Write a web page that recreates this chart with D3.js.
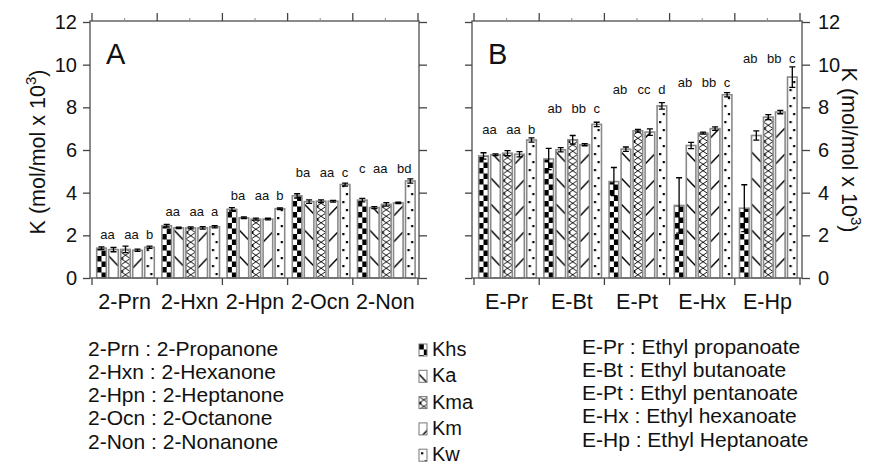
<!DOCTYPE html>
<html><head><meta charset="utf-8">
<script src="https://cdn.jsdelivr.net/npm/d3@7"></script>
<style>body{margin:0;background:#fff} svg{display:block} text{font-family:"Liberation Sans",Arial,Helvetica,sans-serif;fill:#111}</style>
</head><body><svg id="c" width="884" height="464"></svg>
<script>
const series = ["Khs","Ka","Kma","Km","Kw"];
const catsA = ["2-Prn","2-Hxn","2-Hpn","2-Ocn","2-Non"];
const catsB = ["E-Pr","E-Bt","E-Pt","E-Hx","E-Hp"];
const yTicks = [0,2,4,6,8,10,12];
// values per category, in series order Khs, Ka, Kma, Km, Kw
const valuesA = [
 [1.40,1.33,1.34,1.30,1.44],
 [2.45,2.35,2.35,2.35,2.40],
 [3.22,2.82,2.76,2.76,3.25],
 [3.85,3.58,3.60,3.60,4.38],
 [3.65,3.30,3.45,3.52,4.55]];
const errorsA = [
 [0.06,0.10,0.15,0.05,0.05],
 [0.06,0.03,0.05,0.06,0.05],
 [0.08,0.04,0.05,0.04,0.04],
 [0.10,0.08,0.06,0.04,0.07],
 [0.08,0.05,0.08,0.03,0.10]];
const valuesB = [
 [5.72,5.78,5.85,5.80,6.47],
 [5.58,6.01,6.48,6.25,7.20],
 [4.52,6.04,6.90,6.84,8.07],
 [3.40,6.21,6.79,7.00,8.59],
 [3.27,6.68,7.54,7.78,9.42]];
const errorsB = [
 [0.15,0.04,0.12,0.12,0.10],
 [0.50,0.10,0.20,0.05,0.10],
 [0.66,0.10,0.06,0.15,0.15],
 [1.30,0.15,0.05,0.08,0.10],
 [1.10,0.22,0.12,0.08,0.48]];
// significance letters: [text, first bar index, last bar index]
const lettersA = [
 [["aa",0,1],["aa",2,3],["b",4,4]],
 [["aa",0,1],["aa",2,3],["a",4,4]],
 [["ba",0,1],["aa",2,3],["b",4,4]],
 [["ba",0,1],["aa",2,3],["c",4,4]],
 [["c",0,0],["aa",1,2],["bd",3,4]]];
const lettersB = [
 [["aa",0,1],["aa",2,3],["b",4,4]],
 [["ab",0,1],["bb",2,3],["c",4,4]],
 [["ab",0,1],["cc",2,3],["d",4,4]],
 [["ab",0,1],["bb",2,3],["c",4,4]],
 [["ab",0,1],["bb",2,3],["c",4,4]]];
const letterLevelA = [1.81,2.89,3.64,4.72,4.91];
const letterLevelB = [6.74,7.72,8.62,8.94,10.07];
const legendA = ["2-Prn : 2-Propanone","2-Hxn : 2-Hexanone","2-Hpn : 2-Heptanone","2-Ocn : 2-Octanone","2-Non : 2-Nonanone"];
const legendB = ["E-Pr : Ethyl propanoate","E-Bt : Ethyl butanoate","E-Pt : Ethyl pentanoate","E-Hx : Ethyl hexanoate","E-Hp : Ethyl Heptanoate"];

const svg = d3.select("#c");
const Y0 = 278, Y1 = 22;
const y = d3.scaleLinear().domain([0,12]).range([Y0,Y1]);
const inner = d3.scaleBand().domain(series).range([3.5,63.5]).paddingInner(0.2).paddingOuter(0.1);
const bw = inner.bandwidth();
const frameCol = "#666";

// patterns
const defs = svg.append("defs");
function pat(id, w, h){ return defs.append("pattern").attr("id",id).attr("patternUnits","userSpaceOnUse").attr("width",w).attr("height",h); }
let p = pat("p-Khs", bw, 11);
p.append("rect").attr("width",bw).attr("height",11).attr("fill","#fff");
p.append("rect").attr("x",0).attr("y",0).attr("width",bw/2).attr("height",5.5).attr("fill","#000");
p.append("rect").attr("x",bw/2).attr("y",5.5).attr("width",bw/2).attr("height",5.5).attr("fill","#000");
p = pat("p-Ka", bw, 26);
p.append("rect").attr("width",bw).attr("height",26).attr("fill","#fff");
p.append("path").attr("d",`M0,4L${bw},14`).attr("stroke","#000").attr("stroke-width",1.5);
p = pat("p-Kma", bw, 13);
p.append("rect").attr("width",bw).attr("height",13).attr("fill","#fff");
p.append("path").attr("d",`M0,0L${bw},6.5L0,13M${bw},0L0,6.5L${bw},13`).attr("stroke","#000").attr("stroke-width",0.9).attr("fill","none");
p.append("rect").attr("x",0).attr("y",5.3).attr("width",2.4).attr("height",2.4).attr("fill","#000");
p = pat("p-Km", bw, 26);
p.append("rect").attr("width",bw).attr("height",26).attr("fill","#fff");
p.append("path").attr("d",`M0,16L${bw},6`).attr("stroke","#000").attr("stroke-width",1.5);
p = pat("p-Kw", bw, 16);
p.append("rect").attr("width",bw).attr("height",16).attr("fill","#fff");
p.append("rect").attr("x",2).attr("y",3).attr("width",2.2).attr("height",2.2).attr("fill","#000");
p.append("rect").attr("x",5.6).attr("y",11).attr("width",2.2).attr("height",2.2).attr("fill","#000");

function panel(cats, values, errors, letters, levels, fx0, fx1, bx0, bx1, label, leftLabels, rightLabels){
  const g = svg.append("g");
  const x = d3.scaleBand().domain(cats).range([bx0,bx1]);
  cats.forEach((c,ci)=>{
    series.forEach((s,si)=>{
      const v = values[ci][si], e = errors[ci][si];
      const bx = x(c)+inner(s);
      const bg = g.append("g").attr("transform",`translate(${bx},${Y0})`);
      bg.append("rect").attr("x",0).attr("y",y(v)-Y0).attr("width",bw).attr("height",Y0-y(v))
        .attr("fill",`url(#p-${s})`).attr("stroke","#8a8a8a").attr("stroke-width",1.6);
      const cx = bw/2;
      bg.append("path").attr("d",`M${cx},${y(v+e)-Y0}V${y(v-e)-Y0}M${cx-3},${y(v+e)-Y0}H${cx+3}M${cx-3},${y(v-e)-Y0}H${cx+3}`)
        .attr("stroke","#000").attr("stroke-width",1.3).attr("fill","none");
    });
    letters[ci].forEach(([t,a,b])=>{
      const xa = x(c)+inner(series[a]), xb = x(c)+inner(series[b])+bw;
      g.append("text").attr("x",(xa+xb)/2).attr("y",y(levels[ci])).attr("text-anchor","middle")
        .attr("font-size",13).text(t);
    });
  });
  g.append("rect").attr("x",fx0).attr("y",Y1-1).attr("width",fx1-fx0).attr("height",Y0-Y1+1)
    .attr("fill","none").attr("stroke",frameCol).attr("stroke-width",1.5);
  const la = d3.axisLeft(y).tickValues(yTicks).tickSize(7).tickPadding(6).tickFormat(leftLabels? d3.format("d") : "");
  const lg = g.append("g").attr("transform",`translate(${fx0},0)`).call(la);
  const ra = d3.axisRight(y).tickValues(yTicks).tickSize(8).tickPadding(8).tickFormat(rightLabels? d3.format("d") : "");
  const rg = g.append("g").attr("transform",`translate(${fx1},0)`).call(ra);
  [lg,rg].forEach(a=>{ a.select(".domain").remove(); a.selectAll("line").attr("stroke","#444").attr("stroke-width",1.3);
    a.selectAll("text").attr("font-size",20).attr("fill","#111").style("font-family","Liberation Sans, Arial, sans-serif"); });
  const bounds = cats.map(c=>x(c)).concat([bx1]);
  g.selectAll(null).data(bounds).enter().append("line")
    .attr("x1",d=>d).attr("x2",d=>d).attr("y1",Y0).attr("y2",Y0+7).attr("stroke","#444").attr("stroke-width",1.3);
  g.selectAll(null).data(bounds).enter().append("line")
    .attr("x1",d=>d).attr("x2",d=>d).attr("y1",Y1-1).attr("y2",Y1-9).attr("stroke","#444").attr("stroke-width",1.3);
  g.selectAll(null).data(cats).enter().append("line")
    .attr("x1",d=>x(d)+x.bandwidth()/2).attr("x2",d=>x(d)+x.bandwidth()/2).attr("y1",Y1-1).attr("y2",Y1-4).attr("stroke","#888").attr("stroke-width",1);
  g.selectAll(null).data(cats).enter().append("text")
    .attr("x",d=>x(d)+x.bandwidth()/2).attr("y",308.5).attr("text-anchor","middle").attr("font-size",21.5).text(d=>d);
  g.append("text").attr("x",fx0+16).attr("y",64).attr("font-size",29).text(label);
}
panel(catsA, valuesA, errorsA, lettersA, letterLevelA, 90, 419, 92, 418, "A", true, false);
panel(catsB, valuesB, errorsB, lettersB, letterLevelB, 472, 802, 474, 800, "B", false, true);

function title(tx, ty, rot){
  const t = svg.append("text").attr("transform",`translate(${tx},${ty}) rotate(${rot})`).attr("text-anchor","middle").attr("font-size",21.5);
  t.append("tspan").text("K (mol/mol x 10");
  t.append("tspan").attr("font-size",15).attr("dy",-9).text("3");
  t.append("tspan").attr("dy",9).text(")");
}
title(45, 152, -90);
title(842, 150, 90);

svg.selectAll(null).data(legendA).enter().append("text")
  .attr("x",88).attr("y",(d,i)=>355.5+i*23.3).attr("font-size",21).text(d=>d);
svg.selectAll(null).data(legendB).enter().append("text")
  .attr("x",582).attr("y",(d,i)=>353.5+i*23.3).attr("font-size",21).text(d=>d);
const lgd = svg.selectAll(null).data(series).enter().append("g")
  .attr("transform",(d,i)=>`translate(419,${344+i*26.3})`);
lgd.append("rect").attr("width",8).attr("height",12).attr("fill",d=>`url(#p-${d})`).attr("stroke","#777").attr("stroke-width",1);
lgd.append("text").attr("x",13).attr("y",12).attr("font-size",20).text(d=>d);
</script></body></html>
